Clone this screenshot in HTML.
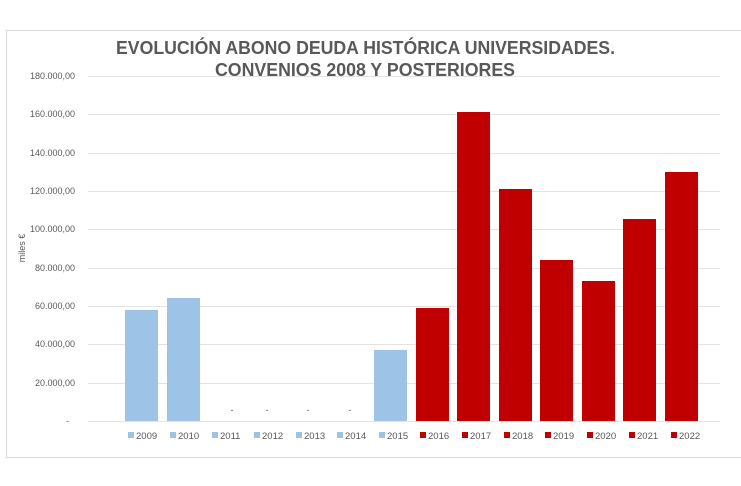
<!DOCTYPE html>
<html><head><meta charset="utf-8"><style>
body{margin:0;background:#fff;}
svg{display:block;font-family:"Liberation Sans",sans-serif;}
</style></head><body>
<svg width="741" height="486" viewBox="0 0 741 486">
<rect x="6.5" y="30.5" width="740" height="427" fill="#fff" stroke="#d9d9d9"/>
<text x="116" y="54" textLength="499" lengthAdjust="spacingAndGlyphs" font-size="18.5" font-weight="bold" fill="#595959">EVOLUCIÓN ABONO DEUDA HISTÓRICA UNIVERSIDADES.</text>
<text x="215" y="76" textLength="300" lengthAdjust="spacingAndGlyphs" font-size="18.5" font-weight="bold" fill="#595959">CONVENIOS 2008 Y POSTERIORES</text>
<g stroke="#e3e3e3" stroke-width="1">
<line x1="88" x2="720" y1="76.5" y2="76.5"/><line x1="88" x2="720" y1="114.5" y2="114.5"/>
<line x1="88" x2="720" y1="153.5" y2="153.5"/><line x1="88" x2="720" y1="191.5" y2="191.5"/>
<line x1="88" x2="720" y1="229.5" y2="229.5"/><line x1="88" x2="720" y1="268.5" y2="268.5"/>
<line x1="88" x2="720" y1="306.5" y2="306.5"/><line x1="88" x2="720" y1="344.5" y2="344.5"/>
<line x1="88" x2="720" y1="383.5" y2="383.5"/><line x1="88" x2="720" y1="421.5" y2="421.5"/>
</g>
<g font-size="9" fill="#595959" text-anchor="end">
<text x="75" y="79">180.000,00</text><text x="75" y="117">160.000,00</text>
<text x="75" y="156">140.000,00</text><text x="75" y="194">120.000,00</text>
<text x="75" y="232">100.000,00</text><text x="75" y="271">80.000,00</text>
<text x="75" y="309">60.000,00</text><text x="75" y="347">40.000,00</text>
<text x="75" y="386">20.000,00</text><text x="69" y="424">-</text>
</g>
<text transform="translate(25,248) rotate(-90)" text-anchor="middle" font-size="9" fill="#595959">miles €</text>
<g fill="#9dc3e6">
<rect x="125" y="310" width="33" height="111"/>
<rect x="167" y="298" width="33" height="123"/>
<rect x="374" y="350" width="33" height="71"/>
</g>
<g fill="#c00000">
<rect x="416" y="308" width="33" height="113"/>
<rect x="457" y="112" width="33" height="309"/>
<rect x="499" y="189" width="33" height="232"/>
<rect x="540" y="260" width="33" height="161"/>
<rect x="582" y="281" width="33" height="140"/>
<rect x="623" y="219" width="33" height="202"/>
<rect x="665" y="172" width="33" height="249"/>
</g>
<g font-size="9" fill="#595959" text-anchor="middle">
<text x="232" y="413">-</text><text x="267" y="413">-</text><text x="308" y="413">-</text><text x="350" y="413">-</text>
</g>
<g font-size="9.5" fill="#595959">
<rect x="128" y="432" width="6" height="6" fill="#9dc3e6"/><text x="136" y="439">2009</text>
<rect x="170" y="432" width="6" height="6" fill="#9dc3e6"/><text x="178" y="439">2010</text>
<rect x="212" y="432" width="6" height="6" fill="#9dc3e6"/><text x="220" y="439">2011</text>
<rect x="254" y="432" width="6" height="6" fill="#9dc3e6"/><text x="262" y="439">2012</text>
<rect x="296" y="432" width="6" height="6" fill="#9dc3e6"/><text x="304" y="439">2013</text>
<rect x="337" y="432" width="6" height="6" fill="#9dc3e6"/><text x="345" y="439">2014</text>
<rect x="379" y="432" width="6" height="6" fill="#9dc3e6"/><text x="387" y="439">2015</text>
<rect x="420" y="432" width="6" height="6" fill="#c00000"/><text x="428" y="439">2016</text>
<rect x="462" y="432" width="6" height="6" fill="#c00000"/><text x="470" y="439">2017</text>
<rect x="504" y="432" width="6" height="6" fill="#c00000"/><text x="512" y="439">2018</text>
<rect x="545" y="432" width="6" height="6" fill="#c00000"/><text x="553" y="439">2019</text>
<rect x="587" y="432" width="6" height="6" fill="#c00000"/><text x="595" y="439">2020</text>
<rect x="629" y="432" width="6" height="6" fill="#c00000"/><text x="637" y="439">2021</text>
<rect x="671" y="432" width="6" height="6" fill="#c00000"/><text x="679" y="439">2022</text>
</g>
</svg>
</body></html>
